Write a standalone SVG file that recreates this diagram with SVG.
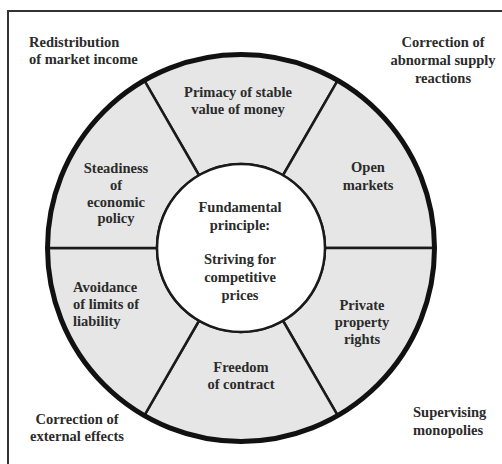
<svg xmlns="http://www.w3.org/2000/svg" width="502" height="464" viewBox="0 0 502 464">
<style>
text{font-family:"Liberation Serif","Times New Roman",serif;font-weight:bold;font-size:14.5px;fill:#2b2b2b}
.c{text-anchor:middle}
.seg{fill:#e6e6e6;stroke:#1a1a1a;stroke-width:2.5}
</style>
<rect x="0" y="0" width="502" height="464" fill="#ffffff"/>
<path d="M8 464 V11 H502" fill="none" stroke="#333" stroke-width="2"/>

<g id="sector-top">
<path class="seg" d="M337.75 80.43 A193.5 193.5 0 0 0 144.25 80.43 L199 175.25 A84 84 0 0 1 283 175.25 Z"/>
<text class="c" x="238" y="97">Primacy of stable</text>
<text class="c" x="238" y="114">value of money</text>
</g>
<g id="sector-upper-right">
<path class="seg" d="M434.5 248 A193.5 193.5 0 0 0 337.75 80.43 L283 175.25 A84 84 0 0 1 325 248 Z"/>
<text class="c" x="368" y="172">Open</text>
<text class="c" x="368" y="190">markets</text>
</g>
<g id="sector-lower-right">
<path class="seg" d="M337.75 415.57 A193.5 193.5 0 0 0 434.5 248 L325 248 A84 84 0 0 1 283 320.75 Z"/>
<text class="c" x="362" y="310">Private</text>
<text class="c" x="362" y="327">property</text>
<text class="c" x="362" y="344">rights</text>
</g>
<g id="sector-bottom">
<path class="seg" d="M144.25 415.57 A193.5 193.5 0 0 0 337.75 415.57 L283 320.75 A84 84 0 0 1 199 320.75 Z"/>
<text class="c" x="241" y="372">Freedom</text>
<text class="c" x="241" y="389">of contract</text>
</g>
<g id="sector-lower-left">
<path class="seg" d="M47.5 248 A193.5 193.5 0 0 0 144.25 415.57 L199 320.75 A84 84 0 0 1 157 248 Z"/>
<text x="73" y="292">Avoidance</text>
<text x="73" y="309">of limits of</text>
<text x="73" y="326">liability</text>
</g>
<g id="sector-upper-left">
<path class="seg" d="M144.25 80.43 A193.5 193.5 0 0 0 47.5 248 L157 248 A84 84 0 0 1 199 175.25 Z"/>
<text class="c" x="116" y="173">Steadiness</text>
<text class="c" x="116" y="190">of</text>
<text class="c" x="116" y="207">economic</text>
<text class="c" x="116" y="223">policy</text>
</g>

<g id="connectors">
<circle cx="241" cy="248" r="193.5" fill="none" stroke="#111" stroke-width="5"/>
</g>

<g id="center">
<circle cx="241" cy="248" r="84" fill="#ffffff" stroke="#1a1a1a" stroke-width="2.5"/>
<text class="c" x="240" y="212">Fundamental</text>
<text class="c" x="240" y="230">principle:</text>
<text class="c" x="240" y="264">Striving for</text>
<text class="c" x="240" y="282">competitive</text>
<text class="c" x="240" y="300">prices</text>
</g>

<g id="redistribution">
<text x="29" y="47">Redistribution</text>
<text x="29" y="64">of market income</text>
</g>
<g id="correction-supply">
<text class="c" x="443" y="47">Correction of</text>
<text class="c" x="443" y="65">abnormal supply</text>
<text class="c" x="443" y="83">reactions</text>
</g>
<g id="correction-external">
<text class="c" x="77" y="424">Correction of</text>
<text class="c" x="77" y="441">external effects</text>
</g>
<g id="supervising">
<text x="413" y="417">Supervising</text>
<text x="413" y="435">monopolies</text>
</g>
</svg>
